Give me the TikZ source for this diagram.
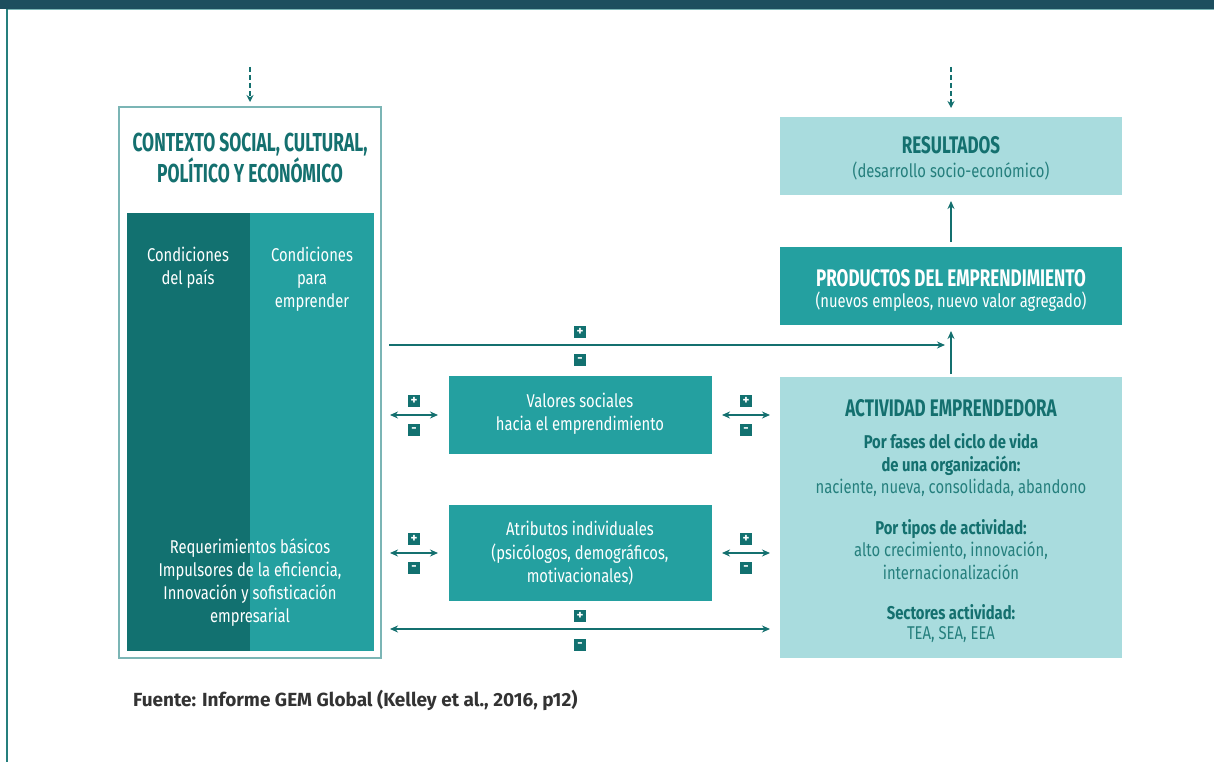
\documentclass[tikz,border=0pt]{standalone}
\usepackage{fontspec}
\setmainfont{Fira Sans}
\newfontfamily\bodyfont[FakeStretch=0.8]{Fira Sans}
\newfontfamily\headfont[FakeStretch=0.67]{Fira Sans}
\newfontfamily\headfontb[FakeStretch=0.71]{Fira Sans}
\usetikzlibrary{arrows.meta}
\definecolor{barcol}{HTML}{1D4E5E}
\definecolor{darkt}{HTML}{127170}
\definecolor{midt}{HTML}{24A0A0}
\definecolor{lightt}{HTML}{A9DCDE}
\definecolor{headt}{HTML}{14706F}
\definecolor{txtt}{HTML}{257F7D}
\definecolor{edget}{HTML}{7BB5B5}
\definecolor{fuente}{HTML}{333333}
\tikzset{
  rbox/.style={inner sep=0pt, outer sep=0pt, anchor=north west},
  body/.style={font=\bodyfont\fontsize{18.5}{23}\selectfont, align=center, inner sep=0pt},
  bodyb/.style={font=\bodyfont\bfseries\fontsize{18.5}{23}\selectfont, align=center, inner sep=0pt},
  head/.style={font=\headfont\bfseries\fontsize{26}{31}\selectfont, align=center, inner sep=0pt},
  headr/.style={font=\headfontb\bfseries\fontsize{24}{28}\selectfont, align=center, inner sep=0pt},
  pm/.style={fill=darkt, text=white, minimum size=12pt, inner sep=0pt, font=\bfseries\fontsize{13}{13}\selectfont},
  arr/.style={draw=headt, line width=1.8pt, -{Stealth[length=8pt,width=7pt]}},
  darr/.style={draw=headt, line width=1.8pt, {Stealth[length=8pt,width=7pt]}-{Stealth[length=8pt,width=7pt]}},
  dasharr/.style={draw=headt, line width=1.8pt, dash pattern=on 5pt off 3pt, -{Stealth[length=7pt,width=7pt]}}
}
\begin{document}
\begin{tikzpicture}[x=1pt,y=-1pt]
\useasboundingbox (0,0) rectangle (1214,762);
\fill[white] (0,0) rectangle (1214,762);
% frame
\fill[barcol] (0,0) rectangle (1214,9);
\draw[edget, line width=1pt] (7,10) -- (1214,10);
\draw[txtt, line width=1.5pt] (7,9) -- (7,762);

% context box
\node[rbox, draw=edget, line width=1.2pt, minimum width=262pt, minimum height=551pt] (ctx) at (119,107) {};
\node[head, text=headt] (ctxt) at (250,158) {CONTEXTO SOCIAL, CULTURAL,\\POLÍTICO Y ECONÓMICO};
\node[rbox, fill=darkt, minimum width=123pt, minimum height=438pt] (col1) at (127,213) {};
\node[rbox, fill=midt, minimum width=124pt, minimum height=438pt] (col2) at (250,213) {};
\node[body, text=white, anchor=north] (c1t) at (188,247) {Condiciones\\del país};
\node[body, text=white, anchor=north] (c2t) at (312,247) {Condiciones\\para\\emprender};
\node[body, text=white, anchor=north] (c3t) at (250,538) {Requerimientos básicos\\Impulsores de la eficiencia,\\Innovación y sofisticación\\empresarial};

% right column
\node[rbox, fill=lightt, minimum width=342pt, minimum height=78pt] (res) at (780,117) {};
\node[headr, text=headt] (rest) at (951,145) {RESULTADOS};
\node[body, text=txtt] (ress) at (951,171) {(desarrollo socio-económico)};

\node[rbox, fill=midt, minimum width=342pt, minimum height=78pt] (prod) at (780,247) {};
\node[headr, text=white] (prodt) at (951,278) {PRODUCTOS DEL EMPRENDIMIENTO};
\node[body, text=white] (prods) at (951,302) {(nuevos empleos, nuevo valor agregado)};

\node[rbox, fill=lightt, minimum width=342pt, minimum height=281pt] (act) at (780,377) {};
\node[headr, text=headt] (actt) at (951,408) {ACTIVIDAD EMPRENDEDORA};
\node[bodyb, text=headt, anchor=north] (a1) at (951,433) {Por fases del ciclo de vida\\de una organización:};
\node[body, text=txtt, anchor=north] (a2) at (951,479) {naciente, nueva, consolidada, abandono};
\node[bodyb, text=headt, anchor=north] (a3) at (951,519) {Por tipos de actividad:};
\node[body, text=txtt, anchor=north] (a4) at (951,541) {alto crecimiento, innovación,\\internacionalización};
\node[bodyb, text=headt, anchor=north] (a5) at (951,604) {Sectores actividad:};
\node[body, text=txtt, anchor=north] (a6) at (951,626) {TEA, SEA, EEA};

% middle boxes
\node[rbox, fill=midt, minimum width=263pt, minimum height=78pt] (val) at (449,376) {};
\node[body, text=white] (valt) at (580,414) {Valores sociales\\hacia el emprendimiento};
\node[rbox, fill=midt, minimum width=263pt, minimum height=96pt] (atr) at (449,505) {};
\node[body, text=white] (atrt) at (580,528) {Atributos individuales};
\node[body, text=white, anchor=north] (atrs) at (580,544) {(psicólogos, demográficos,\\motivacionales)};

% dashed arrows
\coordinate (d1s) at (250,67);
\coordinate (d1e) at (250,102);
\draw[dasharr] (d1s) -- (d1e);
\coordinate (d2s) at (951,67);
\coordinate (d2e) at (951,108);
\draw[dasharr] (d2s) -- (d2e);

% vertical arrows
\draw[arr] ([yshift=5pt]prod.north) -- ([yshift=-6pt]res.south);
\draw[arr] ([yshift=3pt]act.north) -- ([yshift=-6pt]prod.south);

% long arrow top
\coordinate (h1s) at (389,345);
\coordinate (h1e) at (945,345);
\draw[arr] (h1s) -- (h1e);
\node[pm] (p1) at (580,332) {+};
\node[pm] (m1) at (580,360) {-};

% short arrows valores
\coordinate (l1a) at (390,415);
\draw[darr] (l1a) -- ([xshift=-11pt]val.west);
\coordinate (r1b) at (770,415);
\draw[darr] ([xshift=10pt]val.east) -- (r1b);
\node[pm] (p2) at (414,401) {+};
\node[pm] (m2) at (414,430) {-};
\node[pm] (p3) at (746,401) {+};
\node[pm] (m3) at (746,430) {-};

% short arrows atributos
\coordinate (l2a) at (390,553);
\draw[darr] (l2a) -- ([xshift=-11pt]atr.west);
\coordinate (r2b) at (770,553);
\draw[darr] ([xshift=10pt]atr.east) -- (r2b);
\node[pm] (p4) at (414,539) {+};
\node[pm] (m4) at (414,568) {-};
\node[pm] (p5) at (746,539) {+};
\node[pm] (m5) at (746,568) {-};

% bottom long arrow
\coordinate (bl) at (390,629);
\coordinate (br) at (770,629);
\draw[darr] (bl) -- (br);
\node[pm] (p6) at (580,616) {+};
\node[pm] (m6) at (580,645) {-};

% source
\node[anchor=west, inner sep=0pt, text=fuente, font=\bfseries\fontsize{19}{21}\selectfont] (src) at (133,700) {Fuente: Informe GEM Global (Kelley et al., 2016, p12)};
\end{tikzpicture}
\end{document}
